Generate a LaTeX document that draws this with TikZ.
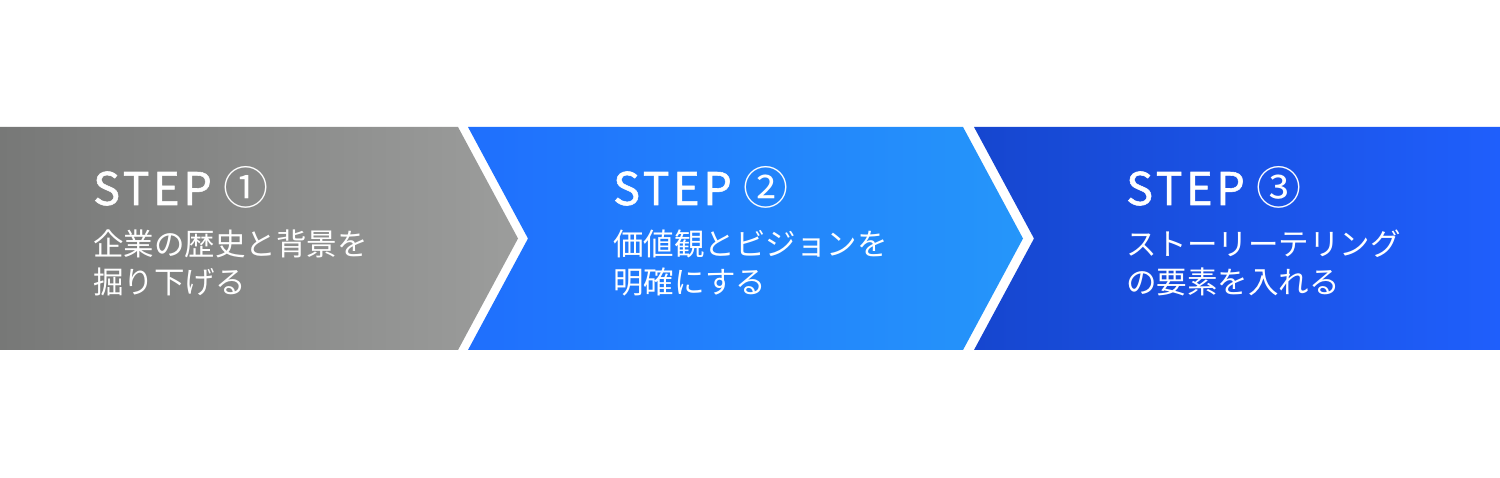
\documentclass[tikz,border=0pt]{standalone}
\usepackage{fontspec}
\setmainfont{Noto Sans CJK JP}
\newfontfamily\stepfont[LetterSpace=8,FakeBold=1.2]{Noto Sans CJK JP}
\newfontfamily\circfont{Noto Sans CJK JP}
\usepackage{tikz}
\usetikzlibrary{positioning}
\definecolor{grayL}{HTML}{777877}
\definecolor{grayR}{HTML}{9C9D9C}
\definecolor{blueAL}{HTML}{1F6FFD}
\definecolor{blueAR}{HTML}{2596FA}
\definecolor{blueBL}{HTML}{1646CF}
\definecolor{blueBR}{HTML}{1F5FFC}
\newcommand{\stepnum}[1]{STEP\hspace{12pt}{\circfont #1}}
\tikzstyle{steptitle} = [anchor=base west, inner sep=0pt, text=white, font={\stepfont\fontsize{45}{45}\selectfont}]
\tikzstyle{stepdesc} = [anchor=base west, inner sep=0pt, text=white, align=left, font={\fontsize{30.5}{38}\selectfont}]
\begin{document}
\begin{tikzpicture}[
      x=1pt, y=1pt
    ]
      \useasboundingbox (0,0) rectangle (1500,477);
      \fill[white] (0,0) rectangle (1500,477);

      % chevrons
      \shade[left color=grayL, right color=grayR]
        (0,350) -- (458,350) -- (518,238.5) -- (458,127) -- (0,127) -- cycle;
      \shade[left color=blueAL, right color=blueAR]
        (468,350) -- (963,350) -- (1023,238.5) -- (963,127) -- (468,127) -- (528,238.5) -- cycle;
      \shade[left color=blueBL, right color=blueBR]
        (974,350) -- (1500,350) -- (1500,127) -- (974,127) -- (1034,238.5) -- cycle;

      % labels
      \node[steptitle] (tOne)   at (93,272)   {\stepnum{①}};
      \node[steptitle] (tTwo)   at (613,272)  {\stepnum{②}};
      \node[steptitle] (tThree) at (1126,272) {\stepnum{③}};

      \node[stepdesc] (dOne)   at ([yshift=-89pt]tOne.base west)   {企業の歴史と背景を\\掘り下げる};
      \node[stepdesc] (dTwo)   at ([yshift=-89pt]tTwo.base west)   {価値観とビジョンを\\明確にする};
      \node[stepdesc] (dThree) at ([yshift=-89pt]tThree.base west) {ストーリーテリング\\の要素を入れる};
    \end{tikzpicture}
\end{document}
